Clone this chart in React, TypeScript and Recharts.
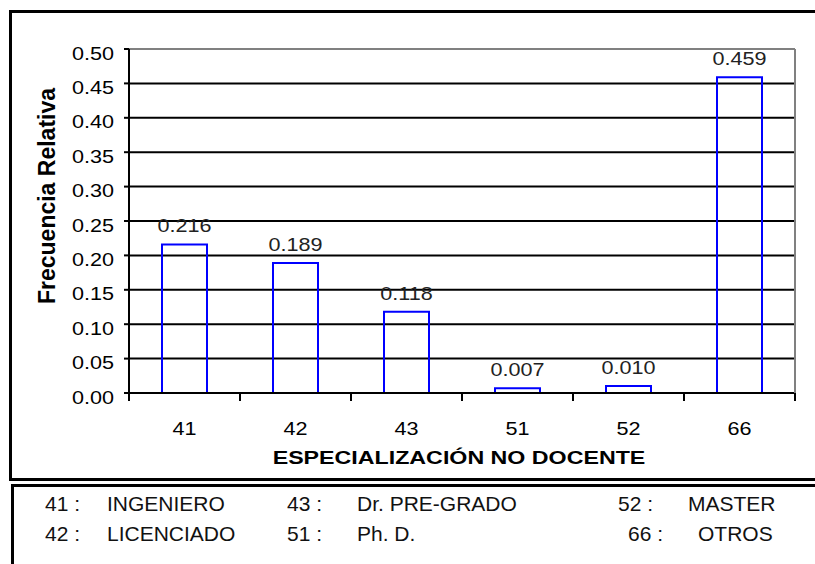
import React from "react";
import { BarChart, Bar, XAxis, YAxis, CartesianGrid, ReferenceLine, LabelList } from "recharts";

const categories = ["41", "42", "43", "51", "52", "66"];
const frequencies = [0.216, 0.189, 0.118, 0.007, 0.01, 0.459];
const yTicks = [0, 0.05, 0.1, 0.15, 0.2, 0.25, 0.3, 0.35, 0.4, 0.45, 0.5];
const boundaryTicks = [0, 1, 2, 3, 4, 5, 6];

const legendCodes = ["41", "42", "43", "51", "52", "66"];
const legendNames = ["INGENIERO", "LICENCIADO", "Dr. PRE-GRADO", "Ph. D.", "MASTER", "OTROS"];

const xTitle = "ESPECIALIZACIÓN NO DOCENTE";
const yTitle = "Frecuencia Relativa";

const FONT = "'Liberation Sans', Arial, sans-serif";

// where each legend entry sits (code x, name x, baseline y)
const legendSlots = [
  { cx: 45, nx: 107, y: 511 },
  { cx: 45, nx: 107, y: 541 },
  { cx: 287, nx: 357, y: 511 },
  { cx: 287, nx: 357, y: 541 },
  { cx: 618, nx: 688, y: 511 },
  { cx: 628, nx: 698, y: 541 },
];

// slot = middle of each category on a 0..6 scale, used by the boundary-tick axis
const chartData = categories.map((c, i) => ({ name: c, value: frequencies[i], slot: i + 0.5 }));

// the original picture is a little wider than tall, so text is stretched sideways
function Wide(props: any) {
  const { x, y, sx = 1.2, anchor = "start", size = 18, weight = "normal", fill = "#000", children } = props;
  return (
    <text
      transform={`translate(${x},${y}) scale(${sx},1)`}
      textAnchor={anchor}
      fontFamily={FONT}
      fontSize={size}
      fontWeight={weight}
      fill={fill}
    >
      {children}
    </text>
  );
}

function YTick(props: any) {
  const { x, y, payload } = props;
  return (
    <Wide x={x} y={y + 10.5} anchor="end">
      {Number(payload.value).toFixed(2)}
    </Wide>
  );
}

function XTick(props: any) {
  const { x, y, payload } = props;
  return (
    <Wide x={x} y={y + 41} anchor="middle">
      {payload.value}
    </Wide>
  );
}

function NoLabel() {
  return <g />;
}

function BarValue(props: any) {
  const { x, y, width, value } = props;
  return (
    <Wide x={x + width / 2} y={y - 12} anchor="middle" fill="#222">
      {Number(value).toFixed(3)}
    </Wide>
  );
}

export default function App() {
  return (
    <div style={{ position: "absolute", left: 0, top: 0, width: 815, height: 564, overflow: "hidden", background: "#fff" }}>
      <div style={{ position: "absolute", left: 9, top: 10, width: 830, height: 471, border: "3px solid #000", boxSizing: "border-box" }} />
      <div style={{ position: "absolute", left: 11, top: 484, width: 830, height: 120, border: "3px solid #000", boxSizing: "border-box" }} />
      <div style={{ position: "absolute", left: 0, top: 0 }}>
        <BarChart width={815} height={564} data={chartData} margin={{ top: 49, right: 19, bottom: 140, left: 0 }}>
          <CartesianGrid xAxisId="b_cat" yAxisId="l" vertical={false} stroke="#000" strokeWidth={2} />
          <XAxis
            xAxisId="a_edge"
            dataKey="slot"
            type="number"
            domain={[0, 6]}
            allowDataOverflow
            ticks={boundaryTicks}
            interval={0}
            height={1}
            tickSize={8}
            tick={<NoLabel />}
            axisLine={{ stroke: "#000", strokeWidth: 2 }}
            tickLine={{ stroke: "#000", strokeWidth: 2 }}
          />
          <XAxis
            xAxisId="b_cat"
            dataKey="name"
            height={30}
            axisLine={false}
            tickLine={false}
            tickSize={0}
            tickMargin={0}
            interval={0}
            tick={<XTick />}
          />
          <YAxis
            yAxisId="l"
            width={129}
            domain={[0, 0.5]}
            ticks={yTicks}
            interval={0}
            tickSize={5}
            tickMargin={10}
            tick={<YTick />}
            axisLine={{ stroke: "#000", strokeWidth: 2 }}
            tickLine={{ stroke: "#000", strokeWidth: 2 }}
          />
          <YAxis
            yAxisId="r"
            orientation="right"
            width={1}
            domain={[0, 0.5]}
            tick={false}
            tickLine={false}
            axisLine={{ stroke: "#808080", strokeWidth: 2 }}
          />
          <ReferenceLine xAxisId="b_cat" yAxisId="l" y={0.5} stroke="#808080" strokeWidth={2} />
          <Bar
            xAxisId="b_cat"
            yAxisId="l"
            dataKey="value"
            fill="none"
            stroke="#0000FF"
            strokeWidth={2}
            barSize={45}
            isAnimationActive={false}
          >
            <LabelList dataKey="value" content={<BarValue />} />
          </Bar>
        </BarChart>
      </div>
      <svg width={815} height={564} style={{ position: "absolute", left: 0, top: 0, pointerEvents: "none" }}>
        <Wide x={459} y={464} sx={1.29} anchor="middle" weight="bold">
          {xTitle}
        </Wide>
        <text
          transform="translate(55,196) rotate(-90)"
          textAnchor="middle"
          fontFamily={FONT}
          fontWeight="bold"
          fontSize={23}
          fill="#000"
        >
          {yTitle}
        </text>
        {legendCodes.map((code, i) => (
          <g key={code} fontFamily={FONT} fontSize={21} fill="#111">
            <text x={legendSlots[i].cx} y={legendSlots[i].y}>{code + " :"}</text>
            <text x={legendSlots[i].nx} y={legendSlots[i].y}>{legendNames[i]}</text>
          </g>
        ))}
      </svg>
    </div>
  );
}
